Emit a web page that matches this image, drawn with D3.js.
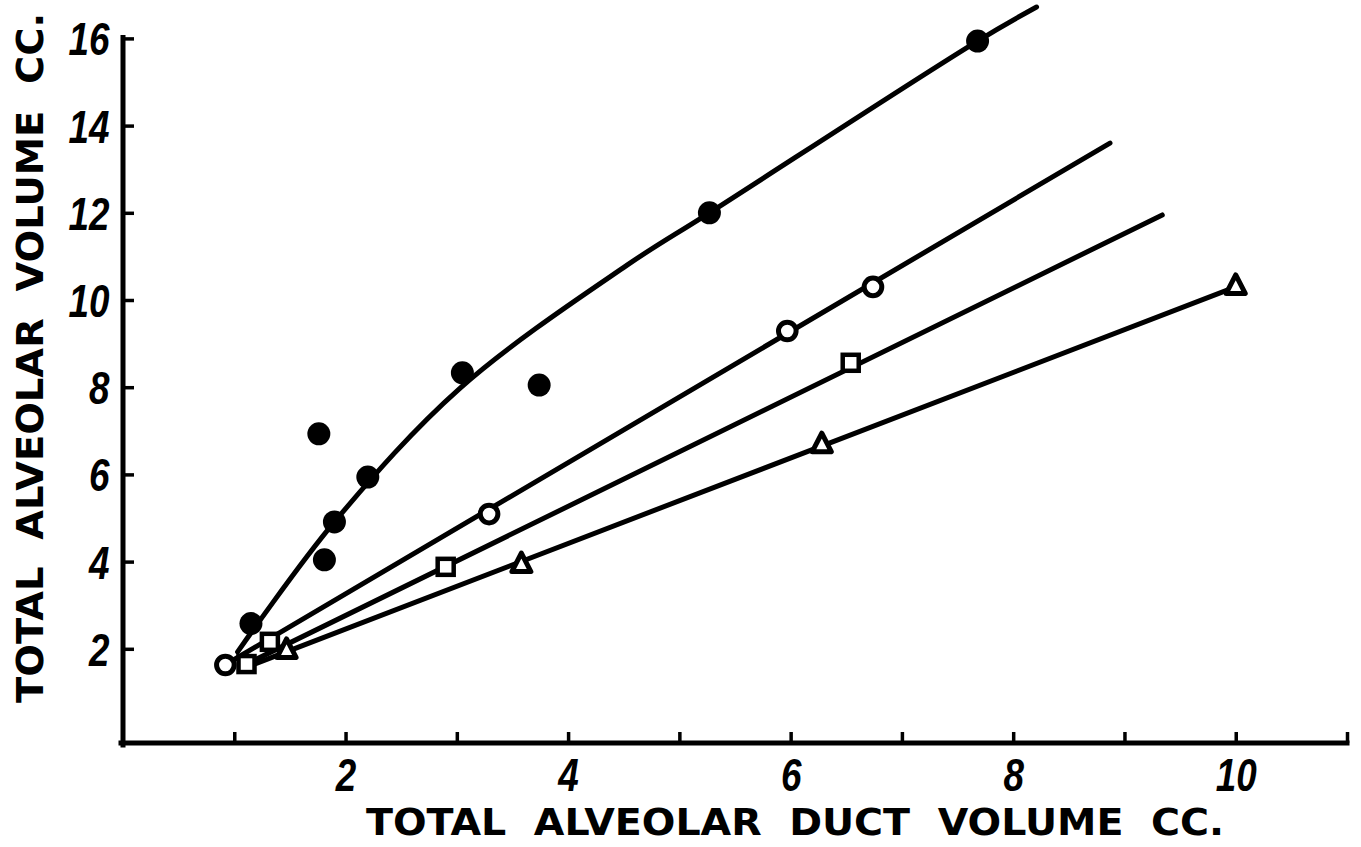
<!DOCTYPE html>
<html>
<head>
<meta charset="utf-8">
<script src="https://cdn.jsdelivr.net/npm/d3@7"></script>
<style>
  html, body { margin: 0; padding: 0; background: #fff; }
  svg { display: block; }
</style>
</head>
<body>
<svg id="chart" width="1361" height="847"></svg>
<script>
// Measured points, alveolar duct volume (x) vs alveolar volume (y), cc.
const filledX = [1.15, 1.76, 1.81, 1.90, 2.20, 3.05, 3.74, 5.27, 7.68];
const filledY = [2.58, 6.93, 4.04, 4.91, 5.94, 8.33, 8.05, 12.0, 15.94];
const openX = [0.92, 3.29, 5.97, 6.74];
const openY = [1.63, 5.09, 9.29, 10.30];
const squareX = [1.11, 1.32, 2.90, 6.54];
const squareY = [1.65, 2.16, 3.88, 8.56];
const triX = [1.47, 3.58, 6.28, 10.0];
const triY = [1.95, 3.92, 6.67, 10.30];

// Hand-fitted curves through each group
const filledFitX = [1.03, 1.90, 3.03, 4.53, 5.27, 7.68, 8.21];
const filledFitY = [1.93, 4.91, 7.98, 10.80, 12.0, 15.94, 16.72];
const openFitX = [0.95, 8.87];
const openFitY = [1.68, 13.60];
const squareFitX = [1.11, 9.34];
const squareFitY = [1.65, 11.95];
const triFitX = [1.15, 10.0];
const triFitY = [1.62, 10.30];

// Axis ticks and labels
const xTicks = [1, 2, 3, 4, 5, 6, 7, 8, 9, 10, 11];
const xLabels = ["", "2", "", "4", "", "6", "", "8", "", "10", ""];
const yTicks = [2, 4, 6, 8, 10, 12, 14, 16];
const xTitle = "TOTAL  ALVEOLAR  DUCT  VOLUME  CC.";
const yTitle = "TOTAL  ALVEOLAR  VOLUME  CC.";

const svg = d3.select("#chart");
svg.append("rect").attr("width", 1361).attr("height", 847).attr("fill", "#fff");

const x = d3.scaleLinear().domain([0, 11]).range([123, 1347]);
const y = d3.scaleLinear().domain([0, 16]).range([736, 38.4]);
const axisY = y(-0.16);
const ink = "#000";

// Axes
const gx = svg.append("g").attr("transform", `translate(0,${axisY})`)
  .call(d3.axisBottom(x).tickValues(xTicks).tickSize(-11).tickSizeOuter(0).tickPadding(18)
    .tickFormat((d, i) => xLabels[i]));
const gy = svg.append("g").attr("transform", `translate(${x(0)},0)`)
  .call(d3.axisLeft(y).tickValues(yTicks).tickSize(-11).tickSizeOuter(0).tickPadding(14)
    .tickFormat(d3.format("d")));

[gx, gy].forEach(g => {
  g.select(".domain").remove();
  g.selectAll(".tick line").attr("stroke", ink).attr("stroke-width", 3.5);
  g.selectAll(".tick text")
    .attr("fill", ink)
    .style("font-family", "'Liberation Sans', Arial, sans-serif")
    .style("font-style", "italic")
    .style("font-weight", "bold")
    .style("font-size", "46px");
});
gx.selectAll(".tick text").attr("dy", "0.71em").attr("y", 15)
  .attr("transform", "scale(0.8,1)");
gy.selectAll(".tick text").attr("dy", "0.36em").attr("x", -17)
  .attr("transform", "scale(0.8,1)");

// Axis lines
svg.append("line")
  .attr("x1", x(0)).attr("x2", x(0)).attr("y1", y(16) - 1).attr("y2", axisY + 2)
  .attr("stroke", ink).attr("stroke-width", 5).attr("stroke-linecap", "square");
svg.append("line")
  .attr("x1", x(0) - 2).attr("x2", x(11)).attr("y1", axisY).attr("y2", axisY)
  .attr("stroke", ink).attr("stroke-width", 5).attr("stroke-linecap", "square");

// Axis titles
svg.append("text")
  .attr("x", 366).attr("y", 835)
  .attr("fill", ink)
  .style("font-family", "'DejaVu Sans', sans-serif")
  .style("font-weight", "bold")
  .style("font-size", "38px")
  .style("white-space", "pre")
  .attr("textLength", 858).attr("lengthAdjust", "spacingAndGlyphs")
  .text(xTitle);
svg.append("text")
  .attr("transform", "translate(43,703) rotate(-90)")
  .attr("fill", ink)
  .style("font-family", "'DejaVu Sans', sans-serif")
  .style("font-weight", "bold")
  .style("font-size", "37px")
  .style("white-space", "pre")
  .attr("textLength", 690).attr("lengthAdjust", "spacingAndGlyphs")
  .text(yTitle);

// Fitted lines
const line = d3.line().x(d => x(d[0])).y(d => y(d[1]));
const fits = [
  { xs: filledFitX, ys: filledFitY, curve: d3.curveCatmullRom.alpha(0.5) },
  { xs: openFitX, ys: openFitY, curve: d3.curveLinear },
  { xs: squareFitX, ys: squareFitY, curve: d3.curveLinear },
  { xs: triFitX, ys: triFitY, curve: d3.curveLinear }
];
fits.forEach(f => {
  svg.append("path")
    .datum(d3.zip(f.xs, f.ys))
    .attr("d", line.curve(f.curve))
    .attr("fill", "none").attr("stroke", ink).attr("stroke-width", 5)
    .attr("stroke-linecap", "round");
});

// Markers
svg.append("g").selectAll("path").data(d3.zip(triX, triY)).join("path")
  .attr("transform", d => `translate(${x(d[0])},${y(d[1])})`)
  .attr("d", "M0,-12 L9.5,6.5 L-9.5,6.5 Z")
  .attr("fill", "#fff").attr("stroke", ink).attr("stroke-width", 5)
  .attr("stroke-linejoin", "round");
svg.append("g").selectAll("rect").data(d3.zip(squareX, squareY)).join("rect")
  .attr("x", d => x(d[0]) - 8).attr("y", d => y(d[1]) - 8)
  .attr("width", 16).attr("height", 16)
  .attr("fill", "#fff").attr("stroke", ink).attr("stroke-width", 4.5);
svg.append("g").selectAll("circle").data(d3.zip(openX, openY)).join("circle")
  .attr("cx", d => x(d[0])).attr("cy", d => y(d[1])).attr("r", 8.8)
  .attr("fill", "#fff").attr("stroke", ink).attr("stroke-width", 5);
svg.append("g").selectAll("circle").data(d3.zip(filledX, filledY)).join("circle")
  .attr("cx", d => x(d[0])).attr("cy", d => y(d[1])).attr("r", 11.5)
  .attr("fill", ink);
</script>
</body>
</html>
